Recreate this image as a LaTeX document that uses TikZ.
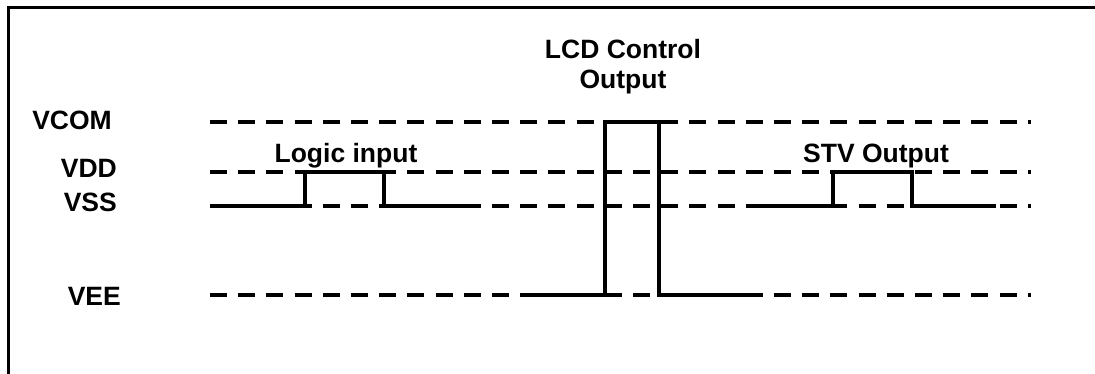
\documentclass[tikz,border=0pt]{standalone}
\usepackage{fontspec}
\setmainfont{Liberation Sans}
\usetikzlibrary{positioning}
\tikzset{%
  % Specifications for style of lines:
      level/.style = {line width=3.2pt, dash pattern=on 17pt off 11.2pt},
     signal/.style = {line width=4.4pt},
     border/.style = {line width=3pt},
  % Specifications for style of texts:
       base/.style = {inner sep=0pt, font=\fontsize{26.5}{30}\selectfont\bfseries},
       rail/.style = {base, anchor=base east},
      title/.style = {base, align=center},
}
\begin{document}
\begin{tikzpicture}[x=1pt, y=-1pt]
  \useasboundingbox (0,0) rectangle (1095,373);
  \draw[border] (8,7) rectangle (1110,390);

  % Voltage levels
  \node (vcom)  [rail] at (112,129) {VCOM};
  \node (vdd)   [rail] at (117,177) {VDD};
  \node (vss)   [rail] at (117,211) {VSS};
  \node (vee)   [rail] at (121,305) {VEE};
  \foreach \y in {122,172,206,295}
    \draw[level] (210,\y) -- (1031,\y);

  % Waveforms
  \node (logic) [title, anchor=base] at (346,162) {Logic input};
  \draw[signal] (222,206) -| (305,172) -| (384,206) -- (468,206);

  \node (lcd)   [title] at (623,66.5) {LCD Control\\Output};
  \draw[signal] (527,295) -| (605,122) -| (659,295) -- (750,295);

  \node (stv)   [title, anchor=base] at (876,162) {STV Output};
  \draw[signal] (750,206) -| (833,172) -| (912,206) -- (996,206);

\end{tikzpicture}
\end{document}
